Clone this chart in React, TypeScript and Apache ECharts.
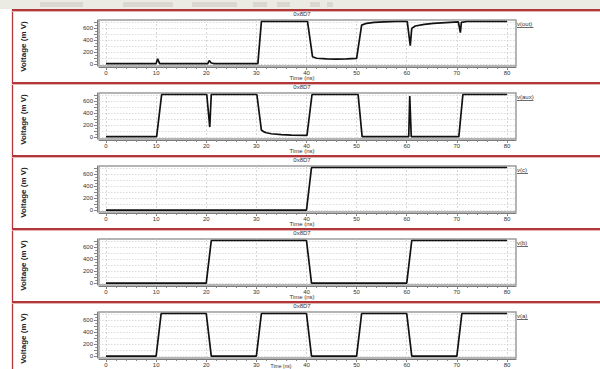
import React, { useEffect, useRef } from "react";
import * as echarts from "echarts";

// Transient simulation traces, time in ns and voltage in mV
const outTime = [0, 10.0, 10.3, 10.7, 20.3, 20.6, 21.0, 21.6, 30.3, 31.0, 40.2, 41.2, 42, 44, 46, 48, 50.0, 51.0, 52, 53.5, 55.5, 58, 60.1, 60.7, 61.0, 61.7, 63.5, 65.3, 68.6, 70.3, 70.7, 70.9, 72, 80];
const outMv = [10, 10, 90, 10, 10, 60, 20, 10, 10, 715, 715, 125, 100, 88, 85, 88, 98, 655, 685, 700, 710, 715, 715, 310, 600, 640, 668, 685, 700, 707, 528, 700, 715, 715];

const auxTime = [0, 10.1, 11.1, 20.1, 20.7, 21.0, 30.1, 31.0, 31.5, 32, 33, 35, 37, 40.1, 41.1, 50.3, 51.1, 60.4, 60.6, 60.9, 70.4, 71.2, 80];
const auxMv = [10, 10, 715, 715, 170, 715, 715, 120, 90, 75, 58, 42, 35, 30, 715, 715, 10, 10, 690, 10, 10, 715, 715];

const cTime = [0, 40, 41, 80];
const cMv = [0, 0, 715, 715];

const bTime = [0, 20, 21, 40, 41, 60, 61, 80];
const bMv = [0, 0, 715, 715, 0, 0, 715, 715];

const aTime = [0, 10, 11, 20, 21, 30, 31, 40, 41, 50, 51, 60, 61, 70, 71, 80];
const aMv = [0, 0, 715, 715, 0, 0, 715, 715, 0, 0, 715, 715, 0, 0, 715, 715];

const signalNames = ["v(out)", "v(aux)", "v(c)", "v(b)", "v(a)"];
const plotTitle = "0x8D7";
const xAxisName = "Time (ns)";
const yAxisName = "Voltage (m V)";

// Axis tick labels and grid positions
const timeTicks = [0, 10, 20, 30, 40, 50, 60, 70, 80];
const voltTicks = [0, 200, 400, 600];
const voltGrid = [0, 100, 200, 300, 400, 500, 600, 700];

const signals = [
  { time: outTime, mv: outMv },
  { time: auxTime, mv: auxMv },
  { time: cTime, mv: cMv },
  { time: bTime, mv: bMv },
  { time: aTime, mv: aMv },
];

const FONT = '"Liberation Sans", Arial, sans-serif';
const X_MIN = -1.4;
const X_MAX = 81.8;
const Y_MIN = -30;
const Y_MAX = 740;
const PANEL_TOPS = [9.5, 82.5, 155.5, 228.5, 301.5];
const FRAME_LEFT = 99;
const FRAME_RIGHT = 516;
const RED = "#b3363a";

const minorTime = Array.from({ length: 41 }, (_, i) => i * 2);
const minorVolt = Array.from({ length: 15 }, (_, i) => i * 50);

function buildOption() {
  const grid: any[] = [];
  const xAxis: any[] = [];
  const yAxis: any[] = [];
  const series: any[] = [];
  const elements: any[] = [];

  // window strip across the top
  elements.push({ type: "rect", shape: { x: 0, y: 0, width: 600, height: 9 }, style: { fill: "#ecebe3" } });
  [[40, 43], [123, 50], [192, 45], [253, 14], [277, 13], [310, 10], [327, 6]].forEach(([x, w]) => {
    elements.push({ type: "rect", shape: { x, y: 2, width: w, height: 5 }, style: { fill: "#d9d7cf" } });
  });
  // left border
  elements.push({ type: "line", shape: { x1: 12.5, y1: 9, x2: 12.5, y2: 369 }, style: { stroke: RED, lineWidth: 1.3 } });

  PANEL_TOPS.forEach((top, i) => {
    const frameTop = top + 10.5;
    const last = i === PANEL_TOPS.length - 1;
    grid.push({
      left: FRAME_LEFT,
      width: FRAME_RIGHT - FRAME_LEFT,
      top: frameTop,
      height: 46,
      show: true,
      borderColor: "#9c9c9c",
      borderWidth: 1.5,
      backgroundColor: "transparent",
    });

    xAxis.push({
      gridIndex: i,
      type: "value",
      min: X_MIN,
      max: X_MAX,
      position: "bottom",
      offset: 1.5,
      axisLine: { show: true, onZero: false, lineStyle: { color: "#7a7a7a", width: 1 } },
      axisTick: { show: true, length: 2.5, customValues: timeTicks, lineStyle: { color: "#7a7a7a" } },
      axisLabel: { customValues: timeTicks, fontSize: 6, margin: 2.5, color: "#333", fontFamily: FONT },
      splitLine: { show: true, lineStyle: { color: "#cdcdcd", type: [2, 2], width: 0.8 } },
    });
    xAxis.push({
      gridIndex: i,
      type: "value",
      min: X_MIN,
      max: X_MAX,
      position: "bottom",
      offset: 1.5,
      axisLine: { show: false, onZero: false },
      axisTick: { show: true, length: 1.5, customValues: minorTime, lineStyle: { color: "#8a8a8a" } },
      axisLabel: { show: false },
      splitLine: { show: false },
    });

    yAxis.push({
      gridIndex: i,
      type: "value",
      min: Y_MIN,
      max: Y_MAX,
      position: "left",
      offset: 2,
      axisLine: { show: true, onZero: false, lineStyle: { color: "#7a7a7a", width: 1 } },
      axisTick: { show: true, length: 3, customValues: voltGrid, lineStyle: { color: "#7a7a7a" } },
      axisLabel: { customValues: voltTicks, fontSize: 6, margin: 4, color: "#333", fontFamily: FONT },
      splitLine: { show: true, lineStyle: { color: "#d2d2d2", type: [1.5, 1.5], width: 0.8 } },
    });
    yAxis.push({
      gridIndex: i,
      type: "value",
      min: Y_MIN,
      max: Y_MAX,
      position: "left",
      offset: 2,
      axisLine: { show: false, onZero: false },
      axisTick: { show: true, length: 1.8, customValues: minorVolt, lineStyle: { color: "#8a8a8a" } },
      axisLabel: { show: false },
      splitLine: { show: false },
    });

    const sig = signals[i];
    series.push({
      type: "line",
      name: signalNames[i],
      xAxisIndex: i * 2,
      yAxisIndex: i * 2,
      data: sig.time.map((t, k) => [t, sig.mv[k]]),
      showSymbol: false,
      symbol: "none",
      lineStyle: { color: "#111", width: 1.7 },
      z: 3,
    });

    // separator above each panel
    elements.push({ type: "rect", shape: { x: 12, y: top - 0.5, width: 588, height: 2 }, style: { fill: RED } });
    elements.push({ type: "rect", shape: { x: 12, y: top + 1.5, width: 588, height: 1 }, style: { fill: "#e3b4b4" } });

    elements.push({
      type: "text",
      x: 302,
      y: top + 4,
      style: { text: plotTitle, fontSize: 6, fontFamily: FONT, fill: "#333", align: "center", verticalAlign: "middle" },
    });
    // the bottom panel's axis title runs into the page edge, so it sits
    // beside the tick labels there instead of below them
    elements.push({
      type: "text",
      x: last ? 281 : 302,
      y: last ? top + 64.5 : top + 68,
      style: {
        text: xAxisName,
        fontSize: last ? 5 : 6,
        fontFamily: FONT,
        fill: "#333",
        align: "center",
        verticalAlign: "middle",
      },
    });
    elements.push({
      type: "text",
      x: 23,
      y: top + 37,
      rotation: Math.PI / 2,
      style: {
        text: yAxisName,
        fontSize: 8,
        fontWeight: "bold",
        fontFamily: FONT,
        fill: "#222",
        align: "center",
        verticalAlign: "middle",
      },
    });
    const name = signalNames[i];
    elements.push({
      type: "text",
      x: 517,
      y: top + 14.5,
      style: { text: name, fontSize: 6, fontFamily: FONT, fill: "#333", align: "left", verticalAlign: "middle" },
    });
    elements.push({
      type: "line",
      shape: { x1: 517, y1: top + 18, x2: 517 + name.length * 2.75, y2: top + 18 },
      style: { stroke: "#444", lineWidth: 0.8 },
    });
  });

  return {
    animation: false,
    backgroundColor: "#ffffff",
    grid,
    xAxis,
    yAxis,
    series,
    graphic: { elements },
  };
}

export default function App() {
  const ref = useRef<HTMLDivElement>(null);
  useEffect(() => {
    if (!ref.current) return;
    const chart = echarts.init(ref.current, undefined, { renderer: "svg" });
    chart.setOption(buildOption() as any);
    return () => chart.dispose();
  }, []);
  return (
    <div
      ref={ref}
      style={{ position: "absolute", left: 0, top: 0, width: 600, height: 369, background: "#fff" }}
    />
  );
}
